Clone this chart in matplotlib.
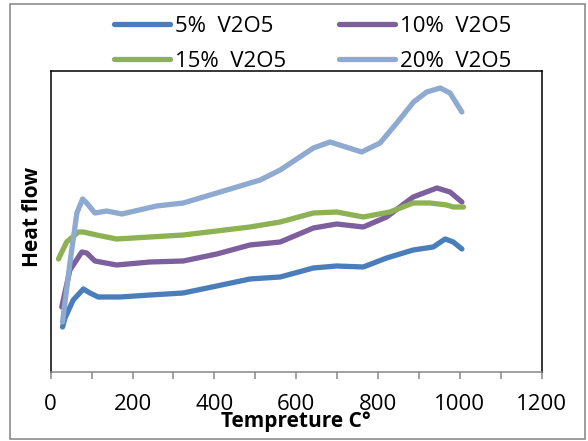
import matplotlib
matplotlib.use('Agg')
import matplotlib.pyplot as plt
from matplotlib.patches import Rectangle
from matplotlib.ticker import MultipleLocator

plt.rcParams['font.family'] = ['Open Sans', 'DejaVu Sans']

# temperatura (C) y flujo de calor (unidades arbitrarias)
t_5 = [29, 35, 55, 80, 96, 116, 170, 243, 324, 406, 487, 561, 642, 699, 764, 821, 886, 935, 964, 984, 1005]
hf_5 = [45, 54, 72, 83, 79, 75, 75, 77, 79, 86, 93, 95, 104, 106, 105, 114, 122, 125, 133, 130, 123]

t_10 = [27, 47, 76, 88, 108, 161, 243, 324, 406, 487, 561, 642, 699, 764, 821, 886, 944, 976, 1005]
hf_10 = [65, 102, 120, 119, 111, 107, 110, 111, 118, 127, 130, 144, 148, 145, 155, 175, 184, 180, 170]

t_15 = [19, 39, 68, 80, 112, 161, 243, 324, 406, 487, 561, 642, 699, 764, 829, 886, 927, 968, 984, 1009]
hf_15 = [113, 130, 140, 140, 137, 133, 135, 137, 141, 145, 150, 159, 160, 155, 160, 169, 169, 167, 165, 165]

t_20 = [29, 47, 64, 78, 88, 108, 137, 174, 259, 324, 406, 512, 561, 642, 683, 760, 805, 846, 887, 919, 952, 976, 1005]
hf_20 = [50, 109, 159, 173, 169, 159, 161, 158, 166, 169, 179, 192, 202, 224, 230, 220, 229, 249, 270, 280, 284, 279, 260]

series = [
    (t_5, hf_5, '5%  V2O5', '#4a7ebb'),
    (t_10, hf_10, '10%  V2O5', '#7d5f9e'),
    (t_15, hf_15, '15%  V2O5', '#8db253'),
    (t_20, hf_20, '20%  V2O5', '#8eaad1'),
]

fig = plt.figure(figsize=(5.88, 4.41), dpi=100)
ax = fig.add_axes([0.0862, 0.1565, 0.835, 0.6825])

lines = []
for t, hf, lab, col in series:
    l, = ax.plot(t, hf, color=col, lw=3.8, label=lab,
                 solid_joinstyle='round', solid_capstyle='round')
    lines.append(l)

ax.set_xlim(0, 1200)
ax.set_ylim(0, 301)
ax.xaxis.set_major_locator(MultipleLocator(200))
ax.xaxis.set_minor_locator(MultipleLocator(100))
ax.set_yticks([])
ax.tick_params(axis='x', which='both', direction='out', length=5, width=1.1,
               color='#868686', labelsize=16, pad=11)
for s in ['left', 'top', 'right']:
    ax.spines[s].set_color('black')
    ax.spines[s].set_linewidth(1.1)
ax.spines['bottom'].set_color('#868686')
ax.spines['bottom'].set_linewidth(1.1)

fig.text(0.056, 0.508, 'Heat flow', rotation=90, fontsize=15, fontweight='bold',
         ha='center', va='center')
fig.text(0.503, 0.045, 'Tempreture C°', fontsize=15, fontweight='bold',
         ha='center', va='center')

# orden por filas como en la leyenda original
order = [0, 2, 1, 3]
ax.legend([lines[i] for i in order], [series[i][2] for i in order],
          ncol=2, loc='center', bbox_to_anchor=(0.532, 0.9008),
          bbox_transform=fig.transFigure, frameon=False, fontsize=16,
          handlelength=2.5, handletextpad=0.23, columnspacing=2.4,
          labelspacing=0.65, borderpad=0)

fig.patches.append(Rectangle((10 / 588, 2 / 441), 575 / 588, 435 / 441,
                             transform=fig.transFigure, fill=False,
                             edgecolor='#8c8c8c', lw=1.2))

fig.savefig('out.png', dpi=100)
